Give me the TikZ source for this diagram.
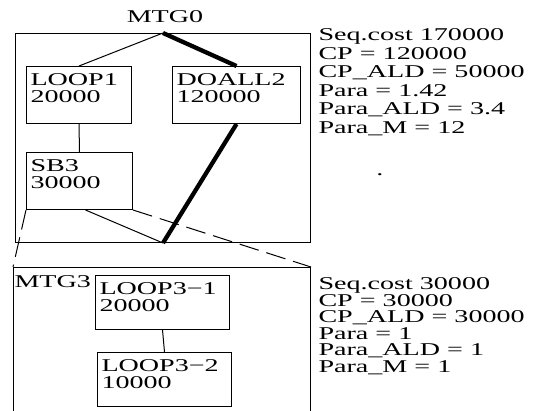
\documentclass[tikz,border=0pt]{standalone}
\usepackage{fontspec}
\setmainfont[FakeStretch=1.56]{Liberation Serif}
\usetikzlibrary{positioning}

\tikzset{
  blk/.style={draw,line width=1pt,anchor=north west,inner sep=0pt},
  lbl/.style={anchor=north west,inner sep=0pt,align=left,font=\fontsize{18}{17.5}\selectfont},
  heavy/.style={line width=4.3pt},
  dsh/.style={dash pattern=on 20pt off 8pt},
}

\begin{document}
\begin{tikzpicture}[x=1pt,y=-1pt,line width=1pt]
  \useasboundingbox (0,0) rectangle (534,410);
  % the two task graphs
  \node[blk,minimum width=295pt,minimum height=209pt] (mtg0) at (15,33) {};
  \node[blk,minimum width=297pt,minimum height=160pt] (mtg3) at (13,267) {};
  \foreach \n/\x/\y/\w/\h/\t in {loop1/26/66/105/57/{LOOP1\\20000},
      doall2/172/66/128/57/{DOALL2\\120000},
      sb3/26/152/106/57/{SB3\\30000},
      loop31/95/275/134/54/{LOOP3−1\\20000},
      loop32/97/352/134/54/{LOOP3−2\\10000}}{
    \node[blk,minimum width=\w pt,minimum height=\h pt] (\n) at (\x,\y) {};
    \node[lbl] (\n-t) at ([xshift=4pt,yshift=-7pt]\n.north west) {\t};
  }
  \draw (mtg0.north) -- (loop1.north);
  \draw[heavy] (mtg0.north) -- (doall2.north);
  \draw (loop1.south) -- (sb3.north);
  \draw[heavy] (doall2.south) -- (mtg0.south);
  \draw ([xshift=6pt]sb3.south) -- (mtg0.south);
  \draw[dsh] (sb3.south west) -- (mtg3.north west);
  \draw[dsh] (sb3.south east) -- (mtg3.north east);
  \draw (loop31.south) -- (loop32.north);
  % labels and figures
  \node[lbl,anchor=base] (mtg0-l) at (165,22) {MTG0};
  \node[lbl,anchor=base west] (mtg3-l) at (14,287) {MTG3};
  \node[lbl,font=\fontsize{18}{18.6}\selectfont] (cost0) at (318,28)
    {Seq.cost 170000\\CP = 120000\\CP\_ALD = 50000\\Para = 1.42\\Para\_ALD = 3.4\\Para\_M = 12};
  \node[lbl,anchor=base] (dot) at (380,175) {.};
  \node[lbl,font=\fontsize{18}{16.6}\selectfont] (cost3) at (318,277)
    {Seq.cost 30000\\CP = 30000\\CP\_ALD = 30000\\Para = 1\\Para\_ALD = 1\\Para\_M = 1};
\end{tikzpicture}
\end{document}
